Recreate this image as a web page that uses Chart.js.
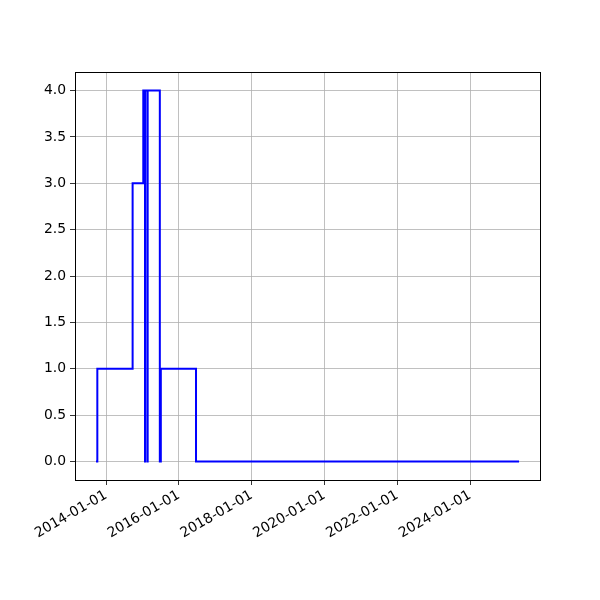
<!DOCTYPE html>
<html>
<head>
<meta charset="utf-8">
<script src="https://cdn.jsdelivr.net/npm/chart.js@4"></script>
<style>
  html, body { margin: 0; padding: 0; background: #fff; }
  #wrap { width: 600px; height: 600px; }
</style>
</head>
<body>
<div id="wrap"><canvas id="grafico"></canvas></div>
<script>
// step changes: value holds from that date until the next one
const dates = ['2013-09-23', '2013-10-06', '2014-09-25', '2015-01-10', '2015-01-27',
               '2015-01-29', '2015-02-21', '2015-02-23', '2015-06-25', '2015-07-05',
               '2016-06-22', '2025-05-07'];
const values = [0, 1, 3, 4, 0, 4, 0, 4, 0, 1, 0, 0];
const tickYears = [2014, 2016, 2018, 2020, 2022, 2024];
const yTicks = [0, 0.5, 1, 1.5, 2, 2.5, 3, 3.5, 4];

function toMs(s) {
  const p = s.split('-').map(Number);
  return Date.UTC(p[0], p[1] - 1, p[2]);
}
function fmt(ms) {
  const d = new Date(ms);
  const m = String(d.getUTCMonth() + 1).padStart(2, '0');
  const day = String(d.getUTCDate()).padStart(2, '0');
  return d.getUTCFullYear() + '-' + m + '-' + day;
}

const pontos = dates.map((d, i) => ({ x: toMs(d), y: values[i] }));

const caixa = {
  id: 'caixa',
  afterDraw(chart) {
    const a = chart.chartArea, c = chart.ctx;
    c.save();
    c.strokeStyle = '#000';
    c.lineWidth = 1;
    c.strokeRect(Math.round(a.left) + 0.5, Math.round(a.top) + 0.5,
                 Math.round(a.right - a.left), Math.round(a.bottom - a.top));
    c.restore();
  }
};

const fonte = { family: 'DejaVu Sans', size: 13.9 };

const ctx = document.getElementById('grafico').getContext('2d');
const grafico = new Chart(ctx, {
  type: 'line',
  data: {
    datasets: [{
      data: pontos,
      borderColor: '#0000ff',
      borderWidth: 2,
      pointRadius: 0,
      fill: false,
      stepped: 'before',
      tension: 0
    }]
  },
  options: {
    responsive: true,
    maintainAspectRatio: false,
    animation: false,
    layout: { padding: { top: 72, right: 60, left: 0, bottom: 0 } },
    plugins: { legend: { display: false }, tooltip: { enabled: false } },
    scales: {
      x: {
        type: 'linear',
        min: toMs('2013-02-24'),
        max: toMs('2025-12-03'),
        afterBuildTicks: s => { s.ticks = tickYears.map(y => ({ value: Date.UTC(y, 0, 1) })); },
        afterFit: s => { s.height = 120; },
        grid: { color: '#b0b0b0', lineWidth: 0.8, tickColor: '#000', tickLength: 5 },
        border: { color: '#000', width: 1 },
        ticks: {
          autoSkip: false,
          minRotation: 30,
          maxRotation: 30,
          padding: 2,
          color: '#000',
          font: fonte,
          callback: v => fmt(v)
        }
      },
      y: {
        min: -0.2,
        max: 4.2,
        afterBuildTicks: s => { s.ticks = yTicks.map(v => ({ value: v })); },
        afterFit: s => { s.width = 75; },
        grid: { color: '#b0b0b0', lineWidth: 0.8, tickColor: '#000', tickLength: 5 },
        border: { color: '#000', width: 1 },
        ticks: {
          padding: 4,
          color: '#000',
          font: fonte,
          callback: v => Number(v).toFixed(1)
        }
      }
    }
  },
  plugins: [caixa]
});
</script>
</body>
</html>
